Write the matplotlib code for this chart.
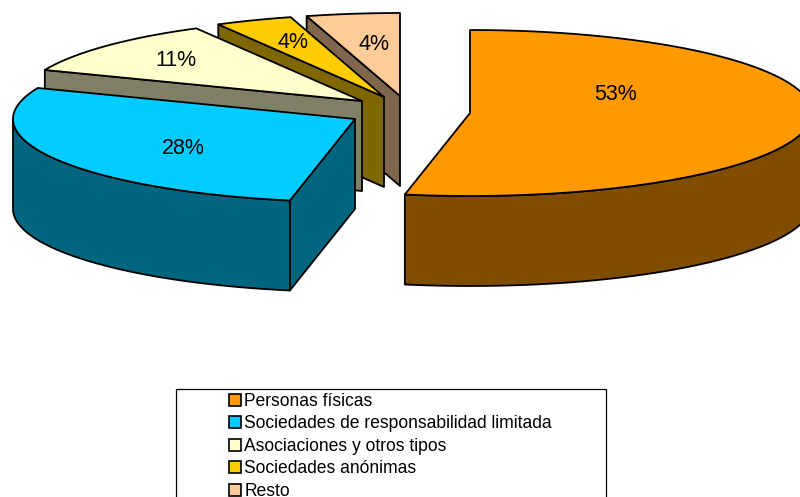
import numpy as np
import matplotlib
matplotlib.use("Agg")
import matplotlib.pyplot as plt
from matplotlib.patches import Polygon, Patch, Rectangle

plt.rcParams['font.family'] = ['Liberation Sans', 'DejaVu Sans']

# Data
categories = ["Personas físicas", "Sociedades de responsabilidad limitada",
              "Asociaciones y otros tipos", "Sociedades anónimas", "Resto"]
shares = [53.05, 28.05, 10.85, 3.65, 4.4]

# Styles / layout (pixel space)
top_colors = ["#FF9900", "#00CCFF", "#FFFFCC", "#FFCC00", "#FFCC99"]
side_colors = ["#7F4C00", "#006680", "#808066", "#806600", "#80664D"]
apex_x = [470, 355, 362, 384, 400]
apex_y = [113, 119, 101, 97, 96]
label_xy = [(616, 94), (183, 149), (176, 60), (293, 43), (374, 44)]
RX, RY, DEPTH = 342, 83, 90

fig = plt.figure(figsize=(8, 4.97), dpi=100)
ax = fig.add_axes([0, 0, 1, 1])
ax.set_xlim(0, 800)
ax.set_ylim(497, 0)
ax.axis("off")


def rim(cx, cy, a, b):
    t = np.radians(np.linspace(a, b, max(int(abs(b - a)) * 2, 2) + 1))
    return np.column_stack([cx + RX * np.sin(t), cy - RY * np.cos(t)])


def face(pts, color, z):
    ax.add_patch(Polygon(pts, closed=True, facecolor=color, edgecolor="black",
                         linewidth=1.3, joinstyle="round", zorder=z))


edges = np.concatenate([[0], np.cumsum(shares)]) / np.sum(shares) * 360
down = np.array([0, DEPTH])

# back to front: last slices first, the big one on top of nothing
for z, i in enumerate([4, 3, 2, 1, 0]):
    a, b = edges[i], edges[i + 1]
    cx, cy = apex_x[i], apex_y[i]
    apex = np.array([cx, cy])
    base = z * 10 + 1
    # cut face at the slice start, when it looks towards the viewer
    if np.sin(np.radians(a)) < -1e-9:
        p = rim(cx, cy, a, a)[0]
        face([apex, p, p + down, apex + down], side_colors[i], base)
    # cut face at the slice end
    if np.sin(np.radians(b)) > 1e-9:
        p = rim(cx, cy, b, b)[0]
        face([apex, p, p + down, apex + down], side_colors[i], base)
    # outer wall: only the near half of the ellipse
    lo, hi = max(a, 90), min(b, 270)
    if hi > lo:
        r = rim(cx, cy, lo, hi)
        face(np.vstack([r, (r + down)[::-1]]), side_colors[i], base + 1)
    # top
    face(np.vstack([apex, rim(cx, cy, a, b)]), top_colors[i], base + 2)

for v, (x, y) in zip(shares, label_xy):
    ax.text(x, y, f"{v:.0f}%", ha="center", va="center", fontsize=15.5,
            color="black", zorder=100)

# Legend
ax.add_patch(Rectangle((175.5, 388.5), 430.5, 130, facecolor="white",
                       edgecolor="black", linewidth=0.9, zorder=90))
handles = [Patch(facecolor=c, edgecolor="black", linewidth=1.2) for c in top_colors]
leg = ax.legend(handles, categories, loc="upper left",
                bbox_to_anchor=(222 / 800, 1 - 386 / 497), frameon=False,
                fontsize=12.65, handlelength=0.68, handleheight=0.68,
                handletextpad=0.2, labelspacing=0.31, borderpad=0.4,
                borderaxespad=0)
leg.set_zorder(95)

fig.savefig("out.png", dpi=100)
